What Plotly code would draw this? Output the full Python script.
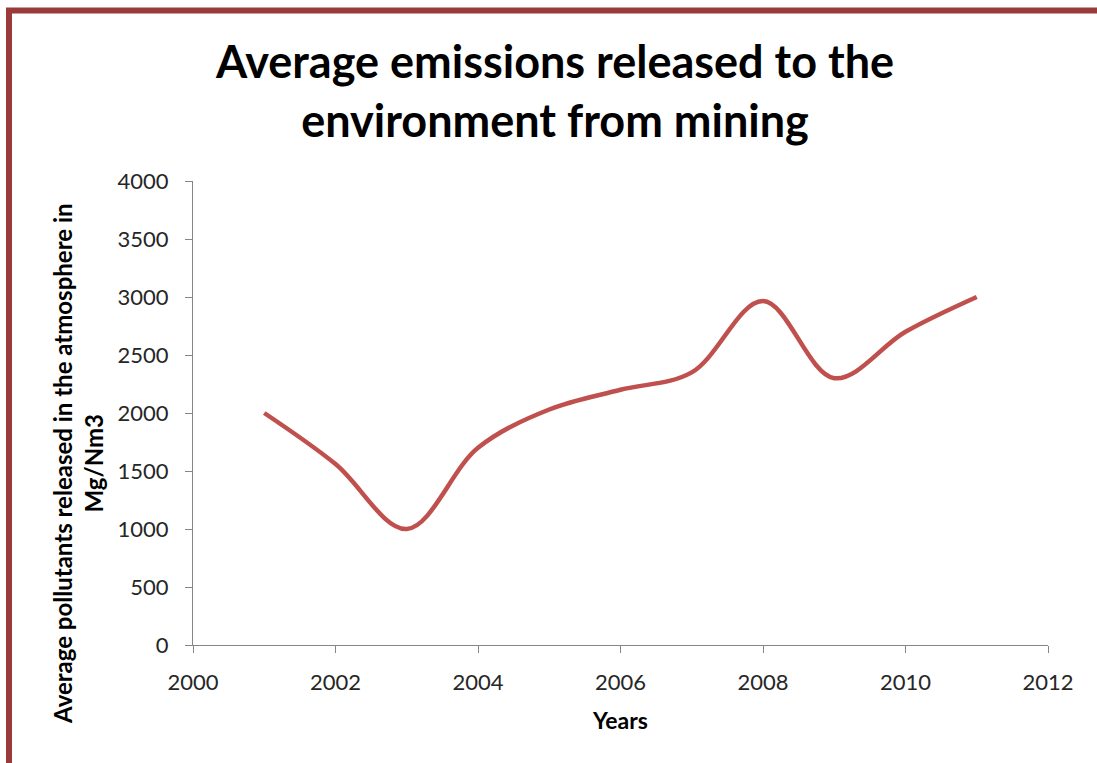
import plotly.graph_objects as go

years = [2001, 2002, 2003, 2004, 2005, 2006, 2007, 2008, 2009, 2010, 2011]
emissions = [2000, 1560, 1000, 1700, 2030, 2200, 2350, 2965, 2300, 2700, 3000]

W, H = 1097, 763
L, R, T, B = 193, 49, 181, 118
pw, ph = W - L - R, H - T - B

def px(xp):
    return (xp - L) / pw

def py(yp):
    return (H - B - yp) / ph

FONT = "Lato"
fig = go.Figure()
fig.add_trace(go.Scatter(
    x=years, y=emissions, mode="lines",
    line=dict(color="#C0504D", width=4.5, shape="spline", smoothing=1.0),
    showlegend=False, hoverinfo="x+y",
))

axis_common = dict(
    showgrid=False, zeroline=False, showline=True, linecolor="#868686", linewidth=1.3,
    ticks="outside", tickcolor="#868686", ticklen=7, tickwidth=1.3,
    tickfont=dict(family=FONT, size=22, color="#262626"),
)
fig.update_xaxes(range=[2000, 2012], dtick=2, tick0=2000, ticklabelstandoff=10, **axis_common)
fig.update_yaxes(range=[0, 4000], dtick=500, ticklabelstandoff=12, **axis_common)

fig.update_layout(
    width=W, height=H,
    margin=dict(l=L, r=R, t=T, b=B),
    paper_bgcolor="white", plot_bgcolor="white",
    title=dict(
        text="<b>Average emissions released to the<br>environment from mining</b>",
        x=555 / W, xanchor="center", y=1 - 78 / H, yanchor="middle",
        font=dict(family=FONT, size=45, color="black"),
    ),
    annotations=[
        dict(text="<b>Years</b>", x=px(620), y=py(720), xref="paper", yref="paper",
             showarrow=False, xanchor="center", yanchor="middle",
             font=dict(family=FONT, size=23, color="black")),
        dict(text="<b>Average pollutants released in the atmosphere in<br>Mg/Nm3</b>",
             x=px(78), y=py(464), xref="paper", yref="paper", textangle=-90,
             showarrow=False, xanchor="center", yanchor="middle",
             font=dict(family=FONT, size=24, color="black")),
    ],
    shapes=[
        dict(type="line", xref="paper", yref="paper", x0=px(6), x1=px(1110), y0=py(10.5), y1=py(10.5),
             line=dict(color="#9A3A3A", width=6)),
        dict(type="line", xref="paper", yref="paper", x0=px(9), x1=px(9), y0=py(8), y1=py(780),
             line=dict(color="#9A3A3A", width=6)),
    ],
)

fig.write_html("out.html")
